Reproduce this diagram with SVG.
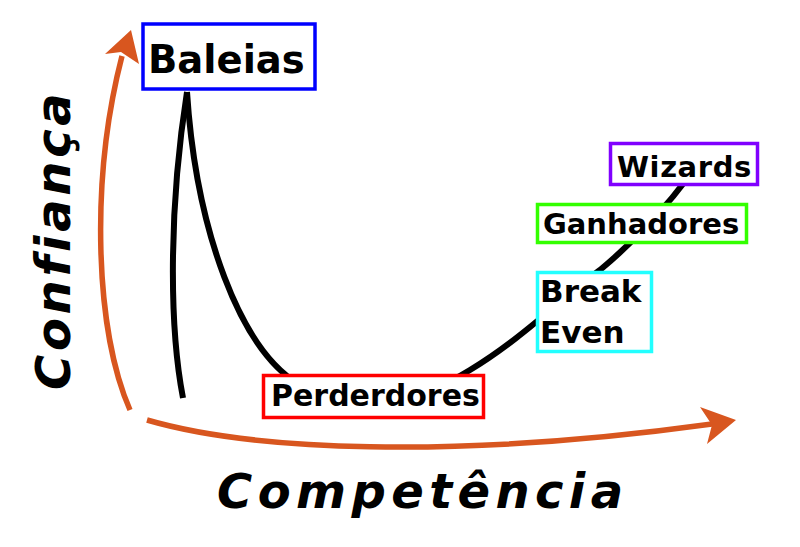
<svg xmlns="http://www.w3.org/2000/svg" width="800" height="547" viewBox="0 0 800 547">
  <style>
    .box { fill: #ffffff; stroke-width: 3.5; }
    .lbl { font-family: "DejaVu Sans", "Liberation Sans", sans-serif; font-weight: bold; fill: #000000; }
    .axis { fill: none; stroke: #d8561f; stroke-width: 5.5; stroke-linecap: butt; }
    .head { fill: #d8561f; }
    .curve { fill: none; stroke: #000000; stroke-width: 6; stroke-linecap: butt; }
    .axlbl { font-family: "DejaVu Sans", "Liberation Sans", sans-serif; font-weight: bold; font-style: italic; font-size: 48px; fill: #000000; }
  </style>
  <rect width="800" height="547" fill="#ffffff"/>
  <g id="connectors">
    <path class="axis" d="M130,410 C95,330 90,180 122,56"/>
    <polygon class="head" points="131,30 105,54 121,52 139,64"/>
    <path class="axis" d="M147,420 C250,450 450,460 712,424"/>
    <polygon class="head" points="736,420 700,407 712,425 707,444"/>
    <path class="curve" d="M187,92 C170,200 168,320 183,398"/>
    <path class="curve" d="M187,92 C196,230 240,350 300,385 C360,415 430,395 470,370 C520,340 560,300 600,270 C630,245 660,215 690,175"/>
  </g>
  <g id="axis-confianca">
    <text class="axlbl" transform="translate(70,390) rotate(-90)" letter-spacing="3.7">Confiança</text>
  </g>
  <g id="axis-competencia">
    <text class="axlbl" x="217" y="508" letter-spacing="5.4">Competência</text>
  </g>
  <g id="baleias">
    <rect class="box" x="143" y="24" width="172" height="65" stroke="#0000ff" stroke-width="4"/>
    <text class="lbl" x="148" y="73" font-size="38.5">Baleias</text>
  </g>
  <g id="wizards">
    <rect class="box" x="610.5" y="143.5" width="147" height="41" stroke="#8000ff"/>
    <text class="lbl" x="617" y="177" font-size="29" letter-spacing="0.6">Wizards</text>
  </g>
  <g id="ganhadores">
    <rect class="box" x="537.5" y="204.5" width="209" height="38" stroke="#33ff00"/>
    <text class="lbl" x="543" y="234" font-size="29">Ganhadores</text>
  </g>
  <g id="break-even">
    <rect class="box" x="537.5" y="272.5" width="114" height="79" stroke="#22ffff"/>
    <text class="lbl" x="540" y="302" font-size="31">Break</text>
    <text class="lbl" x="540" y="343" font-size="31">Even</text>
  </g>
  <g id="perderdores">
    <rect class="box" x="263.5" y="375.5" width="220" height="42" stroke="#ff0000"/>
    <text class="lbl" x="271" y="406" font-size="30">Perderdores</text>
  </g>
</svg>
